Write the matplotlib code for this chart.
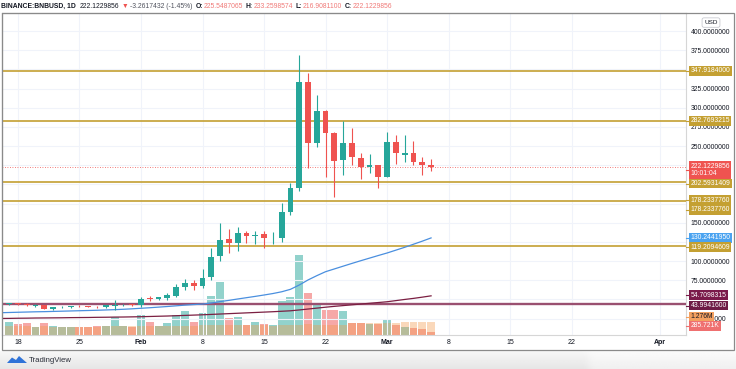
import numpy as np
import pandas as pd
import matplotlib
matplotlib.use('Agg')
import matplotlib.pyplot as plt
import matplotlib.dates as mdates
import matplotlib.transforms as mtransforms
from matplotlib.patches import Rectangle, Polygon

plt.rcParams['font.family'] = ['Liberation Sans', 'DejaVu Sans']

W, H = 736, 369

# daily candles BNB/BUSD
dates = pd.date_range('2021-01-17', '2021-03-06', freq='D')
opens = [44.3, 44.9, 44.6, 41.5, 42.2, 38.0, 39.6, 40.2, 41.6, 41.0, 40.6, 39.8, 41.8, 42.3, 43.0,
         42.7, 51.5, 50.8, 51.5, 54.9, 66.7, 71.9, 67.5, 78.8, 106.6, 128.3, 124.0, 136.3, 132.7,
         135.4, 129.7, 129.7, 164.4, 194.9, 333.9, 253.6, 295.7, 267.4, 231.8, 254.4, 234.0, 222.3,
         225.3, 210.0, 254.9, 238.5, 240.5, 229.6, 225.5487065]
highs = [46.0, 46.0, 45.8, 43.5, 42.8, 40.5, 41.0, 41.8, 43.0, 41.8, 41.2, 43.0, 49.7, 43.6, 43.7,
         52.8, 54.0, 53.5, 58.0, 70.0, 76.2, 75.5, 89.3, 117.5, 150.1, 141.4, 144.8, 139.0, 139.0,
         139.0, 137.5, 175.3, 201.4, 368.7, 344.8, 316.6, 297.0, 268.0, 282.7, 273.1, 241.4, 239.2,
         225.8, 268.7, 264.4, 264.4, 257.0, 236.1, 233.2598574]
lows = [43.0, 43.2, 42.0, 40.0, 37.0, 36.5, 39.0, 39.5, 40.3, 39.6, 38.5, 39.3, 36.5, 41.5, 41.8,
        40.6, 47.8, 49.8, 49.5, 52.8, 62.3, 62.5, 64.5, 75.4, 100.5, 110.2, 113.6, 123.5, 122.5,
        116.7, 122.0, 125.3, 160.0, 191.8, 221.8, 249.2, 210.0, 184.0, 212.3, 225.3, 206.6, 214.5,
        194.9, 209.5, 226.6, 229.6, 225.3, 212.3, 216.9081100]
closes = [44.9, 44.3, 42.8, 42.0, 38.0, 39.6, 40.2, 41.0, 41.0, 40.6, 39.8, 42.5, 42.3, 42.8, 42.6,
          50.0, 50.8, 52.6, 55.8, 66.7, 71.9, 67.5, 78.4, 105.7, 127.5, 123.2, 136.3, 132.7, 134.5,
          129.7, 130.3, 164.4, 194.9, 333.9, 253.6, 295.7, 267.4, 230.9, 254.4, 235.3, 222.3, 225.0,
          210.0, 254.9, 240.5, 240.5, 229.6, 225.3, 222.1229856]

# volumes in millions
vol_pair = [1.33, 1.07, 1.23, 0.83, 1.17, 0.9, 0.77, 0.77, 0.83, 0.83, 0.9, 0.93, 1.77, 0.9, 0.77,
            2.0, 1.33, 0.9, 1.23, 2.0, 2.43, 1.33, 2.17, 3.9, 5.33, 1.67, 1.77, 1.0, 1.27,
            1.1, 1.0, 3.4, 3.83, 8.0, 4.17, 3.0, 2.5, 2.5, 2.4, 1.23, 1.23, 1.1,
            1.1, 1.5, 1.0, 0.77, 0.67, 0.57, 0.286]
vol_other = [0.9, 0.88, 0.87, 0.85, 0.86, 0.85, 0.84, 0.83, 0.84, 0.85, 0.85, 0.86, 0.88, 0.87, 0.86,
             0.88, 0.9, 0.9, 0.9, 0.92, 0.94, 0.95, 0.96, 1.0, 1.04, 1.02, 1.0, 0.98, 0.97,
             0.96, 0.95, 0.97, 1.0, 1.05, 1.06, 1.02, 1.0, 0.98, 0.97, 1.22, 1.23, 1.23,
             1.24, 1.25, 1.25, 1.26, 1.26, 1.27, 1.276]

# moving averages
ma_dates = pd.date_range('2021-01-16', '2021-03-06', freq='D')
ma_fast = [32.7, 33.0, 33.3, 33.6, 33.9, 34.1, 34.4, 34.7, 35.0, 35.3, 35.6, 35.9, 36.3, 36.7, 37.2, 37.8,
           38.5, 39.2, 40.0, 40.8, 41.7, 42.6, 43.3, 44.0, 45.4, 47.2, 48.8, 50.6, 52.3, 54.0, 55.8,
           57.7, 60.0, 63.2, 68.8, 75.4, 81.0, 86.2, 89.8, 93.4, 97.0, 100.5, 103.9, 107.3,
           110.6, 114.3, 118.0, 122.0, 126.0, 130.2441950]
ma_slow = [25.2, 25.3, 25.5, 25.6, 25.8, 25.9, 26.0, 26.1, 26.3, 26.4, 26.5, 26.7, 26.8, 27.0, 27.1, 27.3,
           27.5, 27.8, 28.1, 28.4, 28.8, 29.2, 29.6, 30.0, 30.5, 31.0, 31.5, 32.0, 32.5, 33.0, 33.5,
           34.0, 34.6, 35.2, 36.3, 37.5, 38.7, 39.9, 41.0, 42.0, 43.0, 44.0, 45.0, 46.0,
           47.0, 48.5, 50.0, 51.4, 53.0, 54.7098315]

levels = [347.9184000, 282.7693215, 202.5931409, 178.2337760, 119.2094609]
base_level = 43.9941600
last_price = 222.1229856

tick_dates = ['2021-01-18', '2021-01-25', '2021-02-01', '2021-02-08', '2021-02-15', '2021-02-22',
              '2021-03-01', '2021-03-08', '2021-03-15', '2021-03-22', '2021-04-01']
tick_labels = ['18', '25', 'Feb', '8', '15', '22', 'Mar', '8', '15', '22', 'Apr']
price_ticks = list(range(25, 401, 25))
hidden_ticks = [50, 125, 175, 200, 225, 350]   # sit under the price tags

UP, DOWN = '#26a69a', '#ef5350'
GOLD = '#c4a032'
TXT = '#131722'

fig = plt.figure(figsize=(W / 100, H / 100), dpi=100)
rect = [2 / W, 34 / H, 684 / W, 322 / H]
ax = fig.add_axes(rect, zorder=2)
vax = fig.add_axes(rect, zorder=1, sharex=ax)
ax.patch.set_visible(False)

x = mdates.date2num(dates)
o, h, l, c = map(np.array, (opens, highs, lows, closes))
up = c >= o
col = np.where(up, UP, DOWN)

# volume overlay
vax.bar(x, vol_pair, width=0.9, color=col, alpha=0.5, linewidth=0)
vax.bar(x, vol_other, width=0.9, color='#f39a4a', alpha=0.38, linewidth=0)
vax.set_ylim(0, 32.2)
vax.axis('off')

# candles
ax.vlines(x, l, h, color=col, lw=0.8, zorder=5)
ax.bar(x, np.maximum(np.abs(c - o), 1.0), bottom=np.minimum(o, c), width=0.66,
       color=col, linewidth=0, zorder=6)

# moving averages
mx = mdates.date2num(ma_dates)
ax.plot(mx, ma_fast, color='#4a8fdf', lw=0.9, zorder=4)
ax.plot(mx, ma_slow, color='#7b1f42', lw=0.9, zorder=4)

# horizontal levels
for lv in levels:
    ax.axhline(lv, color=GOLD, lw=1.2, zorder=3)
ax.axhline(base_level, color='#9a5070', lw=1.7, zorder=3)
ax.axhline(last_price, color=DOWN, lw=0.6, ls=(0, (1, 2)), zorder=3)

feb1 = mdates.date2num(pd.Timestamp('2021-02-01'))
ax.set_xlim(feb1 - 15.81, feb1 + 62.0)
ax.set_ylim(3.65, 423.5)

ax.set_xticks(mdates.date2num(pd.to_datetime(tick_dates)))
ax.set_xticklabels(tick_labels)
for t in ax.get_xticklabels():
    t.set_fontsize(5)
    t.set_color(TXT)
    if t.get_text() in ('Feb', 'Mar', 'Apr'):
        t.set_fontweight('bold')
ax.yaxis.tick_right()
ax.set_yticks(price_ticks)
ax.set_yticklabels(['' if v in hidden_ticks else f'{v:.7f}' for v in price_ticks])
ax.tick_params(axis='y', length=0, pad=3.5, labelsize=4.9, labelcolor=TXT)
ax.tick_params(axis='x', length=0, pad=3, labelsize=5)
ax.grid(True, color='#f0f3fa', lw=0.8, zorder=0)
ax.set_axisbelow(True)
for s in ('top', 'left'):
    ax.spines[s].set_color('#8a8a8a')
for s in ('right', 'bottom'):
    ax.spines[s].set_color('#d6d6d6')
    ax.spines[s].set_linewidth(0.8)

# price tags on the axis
tr = mtransforms.blended_transform_factory(ax.transAxes, ax.transData)


def add_label(yv, text, fc, tc='white', dy=0.0):
    t = tr + mtransforms.ScaledTranslation(0, -dy / 100, fig.dpi_scale_trans)
    ax.plot([1.0, 1.0 + 3 / 684], [yv, yv], transform=t, color=fc, lw=0.8,
            clip_on=False, zorder=9)
    ax.text(1.0 + 4.5 / 684, yv, text, transform=t, ha='left', va='center', fontsize=4.9,
            color=tc, clip_on=False, zorder=10, linespacing=1.1,
            bbox=dict(boxstyle='square,pad=0.2', fc=fc, ec='none'))


add_label(levels[0], '347.9184000', GOLD)
add_label(levels[1], '282.7693215', GOLD)
add_label(last_price, '222.1229856\n10:01:04', DOWN, dy=2.5)
add_label(levels[2], '202.5931409', GOLD, dy=1.2)
add_label(levels[3], '178.2337760', GOLD, dy=-1)
add_label(levels[3], '178.2337760', GOLD, dy=8.8)
add_label(ma_fast[-1], '130.2441950', '#4aa3f0')
add_label(levels[4], '119.2094609', GOLD, dy=0.8)
add_label(ma_slow[-1], '54.7098315', '#7a1a4a', dy=-0.5)
add_label(base_level, '43.9941600', '#6e1b46', dy=1.5)
add_label(base_level - 16.5, '1.276M', '#f3a060', tc=TXT)
add_label(base_level - 28.3, '285.721K', '#ef7070')

# USD tag
ax.text(1.0 + 25 / 684, 411, 'USD', transform=tr, ha='center', va='center', fontsize=4.6,
        color=TXT, clip_on=False, zorder=10,
        bbox=dict(boxstyle='round,pad=0.35,rounding_size=0.3', fc='white', ec='#c8cad0', lw=0.6))

# outer frame
fig.patches.append(Rectangle((2 / W, 19 / H), 732 / W, 337 / H, transform=fig.transFigure,
                             fill=False, ec='#8a8a8a', lw=0.9, zorder=20))

# header line, pieces placed one after another
renderer = fig.canvas.get_renderer()
header = [('BINANCE:BNBUSD, 1D', TXT, 'bold', 4), ('222.1229856', TXT, 'normal', 2),
          ('▼', DOWN, 'normal', 2), ('-3.2617432 (-1.45%)', '#50535e', 'normal', 3),
          ('O:', TXT, 'bold', 0.5), ('225.5487065', '#f07a78', 'normal', 3),
          ('H:', TXT, 'bold', 0.5), ('233.2598574', '#f07a78', 'normal', 3),
          ('L:', TXT, 'bold', 0.5), ('216.9081100', '#f07a78', 'normal', 3),
          ('C:', TXT, 'bold', 0.5), ('222.1229856', '#f07a78', 'normal', 0)]
xp = 1.0
for s, cl, fw, gap in header:
    t = fig.text(xp / W, 1 - 6.5 / H, s, fontsize=4.9, color=cl, fontweight=fw,
                 va='center', ha='left')
    xp = t.get_window_extent(renderer).x1 + gap

# bottom strip with logo
gax = fig.add_axes([0, 0, 1, 18 / H], zorder=0)
grad = np.linspace(0.97, 0.90, 20).reshape(-1, 1) * np.ones((1, 50))
grad[:, 40:] = np.linspace(0.985, 0.94, 20).reshape(-1, 1)
gax.imshow(grad, cmap='gray', vmin=0, vmax=1, aspect='auto', extent=(0, 1, 0, 1))
gax.axis('off')

lax = fig.add_axes([7 / W, 4 / H, 20 / W, 10 / H], zorder=3)
lax.add_patch(Polygon([(0, 0.2), (0.25, 0.75), (0.45, 0.5), (0.6, 0.9), (1.0, 0.2)],
                      closed=True, fc='#2f73d8', ec='none'))
lax.set_xlim(0, 1)
lax.set_ylim(0, 1)
lax.axis('off')
fig.text(29 / W, 1 - 361 / H, 'TradingView', fontsize=5.6, color='#2a2e39', va='center', ha='left')

fig.savefig('out.png', dpi=100)
